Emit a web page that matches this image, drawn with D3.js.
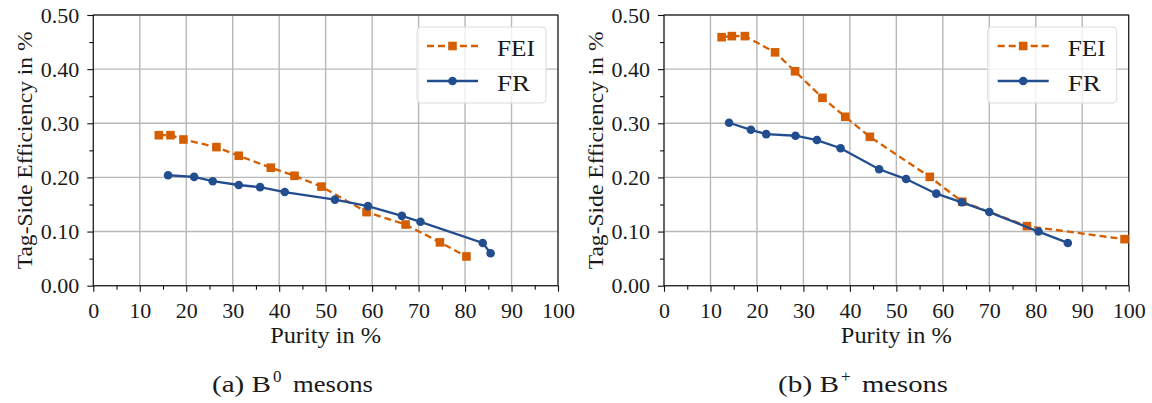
<!DOCTYPE html>
<html><head><meta charset="utf-8">
<script src="https://cdn.jsdelivr.net/npm/d3@7"></script>
<style>body{margin:0;background:#fff}svg{display:block}</style>
</head><body>
<svg id="c" width="1152" height="403"></svg>
<script>
// Data
const feiB0X = [14.1, 16.6, 19.4, 26.5, 31.3, 38.2, 43.3, 49.1, 58.8, 67.2, 74.6, 80.3];
const feiB0Y = [0.278, 0.278, 0.270, 0.256, 0.240, 0.218, 0.203, 0.183, 0.136, 0.113, 0.080, 0.054];
const frB0X = [16.1, 21.7, 25.7, 31.3, 35.9, 41.2, 52.0, 59.1, 66.4, 70.4, 83.8, 85.5];
const frB0Y = [0.204, 0.201, 0.193, 0.186, 0.182, 0.173, 0.159, 0.147, 0.129, 0.118, 0.079, 0.060];
const feiBpX = [12.4, 14.6, 17.4, 23.9, 28.2, 34.1, 39.0, 44.3, 57.2, 64.2, 78.1, 99.1];
const feiBpY = [0.459, 0.461, 0.461, 0.431, 0.396, 0.347, 0.312, 0.275, 0.201, 0.155, 0.110, 0.086];
const frBpX = [14.0, 18.7, 22.0, 28.3, 32.9, 38.0, 46.3, 52.1, 58.6, 64.1, 70.0, 80.6, 86.9];
const frBpY = [0.301, 0.288, 0.280, 0.277, 0.269, 0.254, 0.215, 0.197, 0.170, 0.154, 0.136, 0.100, 0.079];
const xTicks = [0,10,20,30,40,50,60,70,80,90,100];
const yTicks = [0.0,0.1,0.2,0.3,0.4,0.5];
const seriesNames = ["FEI","FR"];
const captions = ["(a) B", "(b) B"];
const captionSups = ["0", "+"];
const captionTail = "mesons";
const xLabel = "Purity in %";
const yLabel = "Tag-Side Efficiency in %";

const FONT = "Liberation Serif";
const C_FEI = "#d55e00", C_FR = "#224d8f";
const svg = d3.select("#c");

function txt(sel, size){ return sel.attr("font-family",FONT).attr("font-size",size).attr("fill","#1a1a1a"); }

function panel(left, right, fx, fy, rx, ry, cap, sup, capLay) {
  const top = 15, bottom = 285.7;
  const x = d3.scaleLinear().domain([0,100]).range([left,right]);
  const y = d3.scaleLinear().domain([0,0.5]).range([bottom,top]);
  const g = svg.append("g");
  g.selectAll(".gx").data(xTicks).join("line")
    .attr("x1",d=>x(d)).attr("x2",d=>x(d)).attr("y1",top).attr("y2",bottom)
    .attr("stroke","#b8b8b8").attr("stroke-width",1.4);
  g.selectAll(".gy").data(yTicks).join("line")
    .attr("x1",left).attr("x2",right).attr("y1",d=>y(d)).attr("y2",d=>y(d))
    .attr("stroke","#b8b8b8").attr("stroke-width",1.4);
  g.append("rect").attr("x",left).attr("y",top).attr("width",right-left).attr("height",bottom-top)
    .attr("fill","none").attr("stroke","#111").attr("stroke-width",1.1);
  const xa = g.append("g").attr("transform",`translate(0,${bottom})`)
    .call(d3.axisBottom(x).tickValues(xTicks).tickSize(6).tickPadding(11).tickFormat(d3.format("d")));
  const xm = g.append("g").attr("transform",`translate(0,${bottom})`)
    .call(d3.axisBottom(x).tickValues(d3.range(5,100,10)).tickSize(4).tickFormat(""));
  const ya = g.append("g").attr("transform",`translate(${left},0)`)
    .call(d3.axisLeft(y).tickValues(yTicks).tickSize(6).tickPadding(8).tickFormat(d3.format(".2f")));
  const ym = g.append("g").attr("transform",`translate(${left},0)`)
    .call(d3.axisLeft(y).tickValues([0.05,0.15,0.25,0.35,0.45]).tickSize(4).tickFormat(""));
  [xa,xm,ya,ym].forEach(a=>{a.attr("font-family",FONT).attr("font-size",22);
    a.select(".domain").remove();a.selectAll("line").attr("stroke","#111").attr("stroke-width",1.1);
    a.selectAll("text").attr("fill","#1a1a1a");});
  txt(g.append("text"),23).attr("x",(left+right)/2).attr("y",343).attr("text-anchor","middle")
    .attr("textLength",111).attr("lengthAdjust","spacingAndGlyphs").text(xLabel);
  txt(g.append("text"),22).attr("transform",`translate(${left-61},${(top+bottom)/2}) rotate(-90)`).attr("text-anchor","middle")
    .attr("textLength",238).attr("lengthAdjust","spacingAndGlyphs").text(yLabel);
  // caption
  const cx = capLay.c, cy = 392;
  txt(g.append("text"),24).attr("x",cx+capLay.a0).attr("y",cy).attr("textLength",capLay.aw).attr("lengthAdjust","spacingAndGlyphs").text(cap);
  txt(g.append("text"),17).attr("x",cx+capLay.s0).attr("y",cy-10).text(sup);
  txt(g.append("text"),24).attr("x",cx+capLay.m0).attr("y",cy).attr("textLength",capLay.mw).attr("lengthAdjust","spacingAndGlyphs").text(captionTail);
  // series
  const line = d3.line().x(d=>x(d[0])).y(d=>y(d[1]));
  const fei = fx.map((v,i)=>[v,fy[i]]), fr = rx.map((v,i)=>[v,ry[i]]);
  g.append("path").datum(fei).attr("d",line).attr("fill","none").attr("stroke",C_FEI).attr("stroke-width",2.3).attr("stroke-dasharray","7,4");
  g.selectAll(".sq").data(fei).join("rect").attr("x",d=>x(d[0])-4.3).attr("y",d=>y(d[1])-4.3).attr("width",8.6).attr("height",8.6).attr("fill",C_FEI);
  g.append("path").datum(fr).attr("d",line).attr("fill","none").attr("stroke",C_FR).attr("stroke-width",2.3);
  g.selectAll(".ci").data(fr).join("circle").attr("cx",d=>x(d[0])).attr("cy",d=>y(d[1])).attr("r",4.3).attr("fill",C_FR);
  // legend
  const lx = right-141, ly = 27;
  g.append("rect").attr("x",lx).attr("y",ly).attr("width",129).attr("height",76).attr("rx",4)
    .attr("fill","#fff").attr("fill-opacity",0.8).attr("stroke","#dcdcdc");
  const rows = [{n:seriesNames[0],c:C_FEI,dash:"7,4",m:"sq",yy:ly+19,by:ly+29},{n:seriesNames[1],c:C_FR,dash:null,m:"ci",yy:ly+54,by:ly+64}];
  rows.forEach(r=>{
    g.append("line").attr("x1",lx+10).attr("x2",lx+61).attr("y1",r.yy).attr("y2",r.yy).attr("stroke",r.c).attr("stroke-width",2.3)
      .attr("stroke-dasharray",r.dash);
    if(r.m==="sq") g.append("rect").attr("x",lx+35.5-4.3).attr("y",r.yy-4.3).attr("width",8.6).attr("height",8.6).attr("fill",r.c);
    else g.append("circle").attr("cx",lx+35.5).attr("cy",r.yy).attr("r",4.3).attr("fill",r.c);
    txt(g.append("text"),24).attr("x",lx+80).attr("y",r.by).attr("textLength",r.n==="FEI"?38:33).attr("lengthAdjust","spacingAndGlyphs").text(r.n);
  });
}
panel(93.3, 558, feiB0X, feiB0Y, frB0X, frB0Y, captions[0], captionSups[0], {c:292, a0:-80, aw:59, s0:-19, m0:1, mw:80});
panel(664, 1128.7, feiBpX, feiBpY, frBpX, frBpY, captions[1], captionSups[1], {c:863, a0:-85, aw:61, s0:-22, m0:-1, mw:86});
</script>
</body></html>
